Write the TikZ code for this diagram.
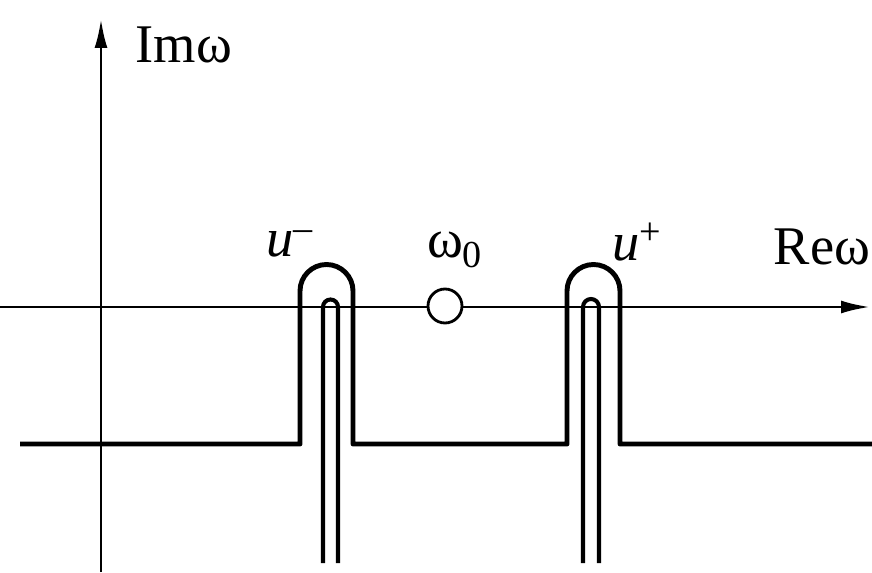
\documentclass[tikz,border=0pt]{standalone}
\usepackage{fontspec}
\setmainfont{Liberation Serif}
\usetikzlibrary{arrows.meta}
\begin{document}
\begin{tikzpicture}[x=0.02cm, y=0.02cm,
  axis/.style={line width=1.6pt, -{Latex[length=0.58cm, width=0.26cm]}},
  contour/.style={line width=2.8pt, line join=round},
  cut/.style={line width=2.3pt},
  pole/.style={circle, draw, fill=white, line width=1.6pt, minimum size=0.68cm, inner sep=0pt},
  lbl/.style={font=\fontsize{31}{36}\selectfont, inner sep=0pt}
]
\useasboundingbox (0,0) rectangle (872,572);
\coordinate (xstart) at (0,265);
\coordinate (xend) at (870,265);
\coordinate (ystart) at (101,0);
\coordinate (yend) at (101,553);
\draw[axis] (xstart) -- (xend);
\draw[axis] (ystart) -- (yend);

\draw[contour] (20,128) -- (300,128) -- (300,281) arc (180:0:26.5) -- (353,128)
  -- (567,128) -- (567,281) arc (180:0:26.5) -- (620,128) -- (872,128);
\draw[cut] (323,9) -- (323,265) arc (180:0:7.5) -- (338,9);
\draw[cut] (583,9) -- (583,265) arc (180:0:8) -- (599,9);

\node[pole] (omega0) at (445,266) {};

\node[lbl] (imlabel) at (184,527) {Imω};
\node[lbl] (relabel) at (822,325) {Reω};
\node[lbl] (uminus) at (290,328) {\textit{u}\textsuperscript{–}};
\node[lbl] (omlabel) at (455,322) {ω\textsubscript{0}};
\node[lbl] (uplus) at (637,330) {\textit{u}\textsuperscript{+}};
\end{tikzpicture}
\end{document}
